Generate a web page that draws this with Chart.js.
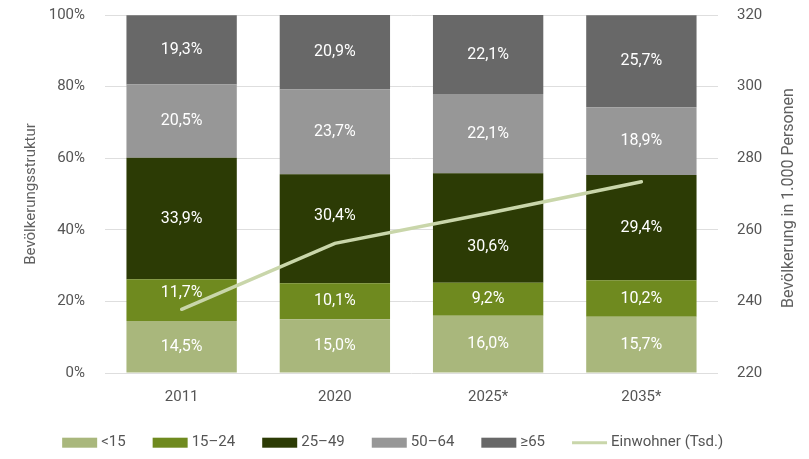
<!DOCTYPE html>
<html>
<head>
<meta charset="utf-8">
<script src="https://cdn.jsdelivr.net/npm/chart.js@4/dist/chart.umd.min.js"></script>
<style>
html,body{margin:0;padding:0;background:#fff;}
#wrap{width:809px;height:459px;}
</style>
</head>
<body>
<div id="wrap"><canvas id="c" width="809" height="459"></canvas></div>
<script>
const categories = ['2011', '2020', '2025*', '2035*'];
const under15 = [14.5, 15.0, 16.0, 15.7];
const age15to24 = [11.7, 10.1, 9.2, 10.2];
const age25to49 = [33.9, 30.4, 30.6, 29.4];
const age50to64 = [20.5, 23.7, 22.1, 18.9];
const age65plus = [19.3, 20.9, 22.1, 25.7];
const einwohner = [237.8, 256.2, 264.6, 273.4];
const seriesLabels = ['<15', '15\u201324', '25\u201349', '50\u201364', '\u226565', 'Einwohner (Tsd.)'];
const leftTitle = 'Bevölkerungsstruktur';
const rightTitle = 'Bevölkerung in 1.000 Personen';

const colors = ['#a9b77c', '#6f8a1f', '#2c3b05', '#979797', '#686868', '#c9d6aa'];
const FONT = 'Roboto, "Liberation Sans", sans-serif';
const TEXT = '#555555';

const barSeries = [under15, age15to24, age25to49, age50to64, age65plus];
const datasets = barSeries.map((d, i) => ({
  type: 'bar',
  label: seriesLabels[i],
  data: d,
  backgroundColor: colors[i],
  borderWidth: 0,
  barPercentage: 0.72,
  categoryPercentage: 1.0,
  yAxisID: 'y',
  order: 1
}));
datasets.push({
  type: 'line',
  label: seriesLabels[5],
  data: einwohner,
  borderColor: colors[5],
  borderWidth: 3.5,
  borderCapStyle: 'round',
  pointRadius: 0,
  tension: 0,
  fill: false,
  yAxisID: 'y2',
  order: 0
});

// small label nudges so that the values stay clear of the line
const labelNudge = { '1-0': -7, '2-1': -13, '2-2': 19 };

const customDraw = {
  id: 'customDraw',
  afterDatasetsDraw(chart) {
    const ctx = chart.ctx;
    ctx.save();
    ctx.font = '16px ' + FONT;
    ctx.fillStyle = '#ffffff';
    ctx.textAlign = 'center';
    ctx.textBaseline = 'middle';
    for (let di = 0; di < 5; di++) {
      const meta = chart.getDatasetMeta(di);
      meta.data.forEach((el, i) => {
        const v = chart.data.datasets[di].data[i];
        const cy = (el.y + el.base) / 2 + (labelNudge[di + '-' + i] || 0);
        ctx.fillText(v.toFixed(1).replace('.', ',') + '%', el.x, cy);
      });
    }
    ctx.restore();
  },
  afterDraw(chart) {
    const ctx = chart.ctx;
    const ca = chart.chartArea;
    ctx.save();
    ctx.fillStyle = '#606060';
    ctx.textAlign = 'center';
    ctx.textBaseline = 'middle';
    ctx.font = '15px ' + FONT;
    ctx.save();
    ctx.translate(31, (ca.top + ca.bottom) / 2);
    ctx.rotate(-Math.PI / 2);
    ctx.fillText(leftTitle, 0, 0);
    ctx.restore();
    ctx.font = '16px ' + FONT;
    ctx.save();
    ctx.translate(789, (ca.top + ca.bottom) / 2 + 4);
    ctx.rotate(-Math.PI / 2);
    ctx.fillText(rightTitle, 0, 0);
    ctx.restore();

    ctx.font = '15px ' + FONT;
    ctx.textAlign = 'left';
    const boxW = 35, boxH = 10, gap = 4, spacing = 27;
    const widths = seriesLabels.map(t => boxW + gap + ctx.measureText(t).width);
    const total = widths.reduce((a, b) => a + b, 0) + spacing * (widths.length - 1);
    let x = 392.7 - total / 2;
    const yc = 442.7;
    seriesLabels.forEach((t, i) => {
      if (i < 5) {
        ctx.fillStyle = colors[i];
        ctx.fillRect(x, yc - boxH / 2, boxW, boxH);
      } else {
        ctx.strokeStyle = colors[i];
        ctx.lineWidth = 3;
        ctx.beginPath();
        ctx.moveTo(x, yc);
        ctx.lineTo(x + boxW, yc);
        ctx.stroke();
      }
      ctx.fillStyle = TEXT;
      ctx.fillText(t, x + boxW + gap, yc);
      x += widths[i] + spacing;
    });
    ctx.restore();
  }
};

function fitVertical(width) {
  return function (s) {
    s.width = width;
    s.paddingTop = 8;
    s.paddingBottom = 8;
  };
}

new Chart(document.getElementById('c'), {
  data: { labels: categories, datasets },
  plugins: [customDraw],
  options: {
    responsive: false,
    animation: false,
    layout: { padding: { top: 15, bottom: 46, left: 0, right: 0 } },
    plugins: { legend: { display: false }, tooltip: { enabled: false } },
    scales: {
      x: {
        stacked: true,
        grid: { display: false, drawTicks: false },
        border: { display: false },
        ticks: { color: TEXT, font: { family: FONT, size: 15 }, padding: 15 },
        afterFit(s) { s.height = 40; }
      },
      y: {
        position: 'left',
        stacked: true,
        min: 0, max: 100,
        grid: { color: '#dedede', lineWidth: 1, drawTicks: false },
        border: { display: false },
        ticks: { stepSize: 20, color: TEXT, font: { family: FONT, size: 15 }, padding: 20,
          callback: v => v + '%' },
        afterFit: fitVertical(105)
      },
      y2: {
        position: 'right',
        min: 220, max: 320,
        grid: { display: false, drawTicks: false },
        border: { display: false },
        ticks: { stepSize: 20, color: TEXT, font: { family: FONT, size: 15 }, padding: 19 },
        afterFit: fitVertical(91)
      }
    }
  }
});
</script>
</body>
</html>
